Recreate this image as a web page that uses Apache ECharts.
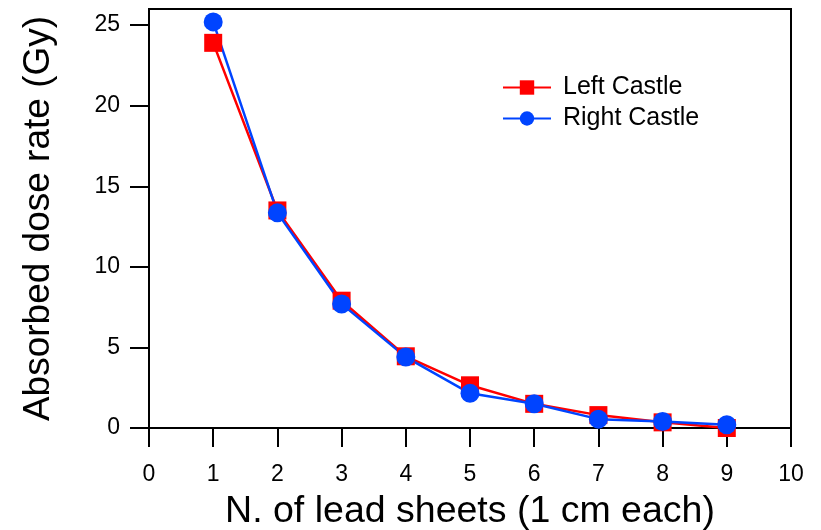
<!DOCTYPE html>
<html><head><meta charset="utf-8">
<script src="https://cdn.jsdelivr.net/npm/echarts@6/dist/echarts.min.js"></script>
<style>html,body{margin:0;padding:0;background:#fff}#c{width:821px;height:530px}</style>
</head><body><div id="c"></div>
<script>
const sheets = [1, 2, 3, 4, 5, 6, 7, 8, 9];
const leftCastle = [23.9, 13.5, 7.9, 4.45, 2.65, 1.5, 0.8, 0.35, 0.0];
const rightCastle = [25.2, 13.35, 7.7, 4.4, 2.15, 1.5, 0.55, 0.4, 0.2];
const yTicks = [0, 5, 10, 15, 20, 25];
const xTicks = [0, 1, 2, 3, 4, 5, 6, 7, 8, 9, 10];

const font = 'Liberation Sans, Arial, sans-serif';
const chart = echarts.init(document.getElementById('c'), null, {renderer: 'canvas'});
chart.setOption({
  animation: false,
  backgroundColor: '#fff',
  grid: {left: 149, right: 30, top: 9, bottom: 102, show: true, borderColor: '#000', borderWidth: 2,
         containLabel: false, outerBoundsMode: 'none'},
  legend: {
    orient: 'vertical', left: 497, top: 70, itemWidth: 48, itemHeight: 18, itemGap: 6,
    textStyle: {fontFamily: font, fontSize: 25, color: '#000', padding: [0, 0, 0, 7]},
    data: ['Left Castle', 'Right Castle']
  },
  xAxis: {
    type: 'value', min: 0, max: 10, interval: 1,
    name: 'N. of lead sheets (1 cm each)', nameLocation: 'middle', nameGap: 65,
    nameTextStyle: {fontFamily: font, fontSize: 37.5, color: '#000'},
    axisLine: {show: true, onZero: false, lineStyle: {color: '#000', width: 2}},
    axisTick: {show: true, length: 19, lineStyle: {color: '#000', width: 2}, customValues: xTicks},
    axisLabel: {margin: 35, fontFamily: font, fontSize: 23, color: '#000', customValues: xTicks},
    splitLine: {show: false}
  },
  yAxis: {
    type: 'value', min: 0, max: 26,
    name: 'Absorbed dose rate (Gy)', nameLocation: 'middle', nameGap: 92,
    nameTextStyle: {fontFamily: font, fontSize: 37, color: '#000'},
    axisLine: {show: true, lineStyle: {color: '#000', width: 2}},
    axisTick: {show: true, length: 19, lineStyle: {color: '#000', width: 2}, customValues: yTicks},
    axisLabel: {margin: 29, fontFamily: font, fontSize: 23, color: '#000', customValues: yTicks},
    splitLine: {show: false}
  },
  series: [
    {
      name: 'Left Castle', type: 'line',
      data: sheets.map((x, i) => [x, leftCastle[i]]),
      symbol: 'rect', symbolSize: 18,
      lineStyle: {color: '#ff0000', width: 2.5},
      itemStyle: {color: '#ff0000'}
    },
    {
      name: 'Right Castle', type: 'line',
      data: sheets.map((x, i) => [x, rightCastle[i]]),
      symbol: 'circle', symbolSize: 19,
      lineStyle: {color: '#0044ff', width: 2.5},
      itemStyle: {color: '#0044ff'}
    }
  ]
});
</script></body></html>
